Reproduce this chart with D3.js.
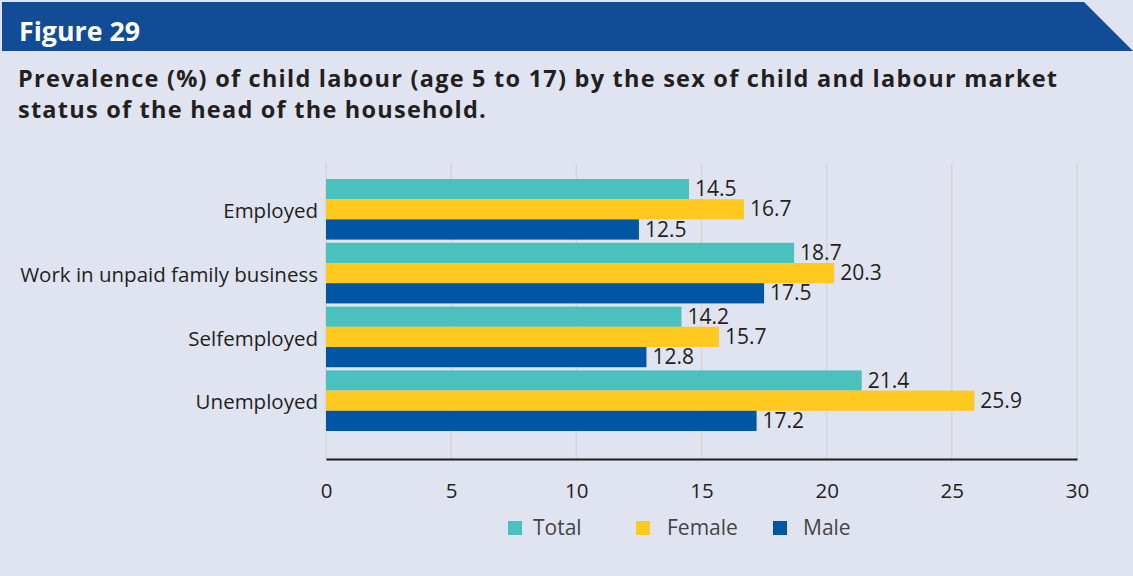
<!DOCTYPE html>
<html>
<head>
<meta charset="utf-8">
<script src="https://cdn.jsdelivr.net/npm/d3@7"></script>
<style>
  html, body { margin: 0; padding: 0; background: #e0e4f0; }
  svg { display: block; }
</style>
</head>
<body>
<svg id="chart" width="1133" height="576"></svg>
<script>
const categories = ["Employed", "Work in unpaid family business", "Selfemployed", "Unemployed"];
const seriesNames = ["Total", "Female", "Male"];
const totalValues = [14.5, 18.7, 14.2, 21.4];
const femaleValues = [16.7, 20.3, 15.7, 25.9];
const maleValues = [12.5, 17.5, 12.8, 17.2];
const xTicks = [0, 5, 10, 15, 20, 25, 30];
const colors = ["#4bc1bd", "#ffc91f", "#0055a5"];

const seriesValues = [totalValues, femaleValues, maleValues];
const W = 1133, H = 576;
const svg = d3.select("#chart");

svg.append("rect").attr("x", 0).attr("y", 0).attr("width", W).attr("height", H).attr("fill", "#e0e4f0");

svg.append("path")
  .attr("d", "M2,2 L1084,2 L1133,51 L2,51 Z")
  .attr("fill", "#124c97");

function fitText(sel, target) {
  const fs = parseFloat(sel.attr("font-size"));
  const w = sel.node().getComputedTextLength();
  sel.attr("font-size", (fs * target / w).toFixed(2));
}
function spreadText(sel, target) {
  const txt = sel.text();
  const w = sel.node().getComputedTextLength();
  const ls = (target - w) / Math.max(1, txt.length - 1);
  sel.attr("letter-spacing", ls.toFixed(3));
  return ls;
}

const fontTitle = "'Open Sans', 'DejaVu Sans', sans-serif";
const t0 = svg.append("text").attr("x", 19).attr("y", 41)
  .attr("font-family", fontTitle).attr("font-weight", 700).attr("font-size", 23)
  .attr("fill", "#ffffff").text("Figure 29");
fitText(t0, 121);

const t1 = svg.append("text").attr("x", 18).attr("y", 87)
  .attr("font-family", fontTitle).attr("font-weight", 700).attr("font-size", 23.5)
  .attr("fill", "#231f20").text("Prevalence (%) of child labour (age 5 to 17) by the sex of child and labour market");
const ls = spreadText(t1, 1039);
svg.append("text").attr("x", 18).attr("y", 118)
  .attr("font-family", fontTitle).attr("font-weight", 700).attr("font-size", 23.5)
  .attr("letter-spacing", ls.toFixed(3))
  .attr("fill", "#231f20").text("status of the head of the household.");

const x = d3.scaleLinear().domain([0, 30]).range([326, 1077]);
const y0 = d3.scaleBand().domain(categories).range([179, 431]).paddingInner(0.05).paddingOuter(0);
const y1 = d3.scaleBand().domain(seriesNames).range([0, y0.bandwidth()]);

const font = "'Open Sans', 'DejaVu Sans', sans-serif";

svg.append("g").selectAll("line").data(xTicks).join("line")
  .attr("x1", d => x(d)).attr("x2", d => x(d))
  .attr("y1", 163).attr("y2", 459)
  .attr("stroke", "#d6d6d8").attr("stroke-width", 1.5);

const groups = svg.append("g").selectAll("g").data(categories).join("g")
  .attr("transform", c => `translate(0,${y0(c)})`);

groups.each(function(c, i) {
  const g = d3.select(this);
  const rows = seriesNames.map((s, k) => ({ s, k, v: seriesValues[k][i] }));
  g.selectAll("rect").data(rows).join("rect")
    .attr("x", x(0)).attr("y", d => y1(d.s))
    .attr("width", d => x(d.v) - x(0)).attr("height", y1.bandwidth())
    .attr("fill", d => colors[d.k]);
  g.selectAll("text.val").data(rows).join("text")
    .attr("class", "val")
    .attr("x", d => x(d.v) + 6).attr("y", d => y1(d.s) + y1.bandwidth() / 2)
    .attr("dy", "0.34em")
    .attr("font-family", font).attr("font-size", 21).attr("fill", "#231f20")
    .text(d => d.v.toFixed(1));
});

svg.append("g").selectAll("text").data(categories).join("text")
  .attr("x", 318).attr("y", c => y0(c) + y0.bandwidth() / 2)
  .attr("dy", "0.42em").attr("text-anchor", "end")
  .attr("font-family", font).attr("font-size", 20.5).attr("fill", "#231f20")
  .text(c => c);

const xAxis = svg.append("g").attr("transform", "translate(0,459)")
  .call(d3.axisBottom(x).tickValues(xTicks).tickSize(0).tickPadding(24).tickFormat(d3.format("d")));
xAxis.select(".domain").attr("stroke", "#1a1a1a").attr("stroke-width", 2);
xAxis.selectAll("text").attr("font-family", font).attr("font-size", 20.5).attr("fill", "#231f20");

const legendX = [508, 636, 773];
const legendTextX = [533, 667, 803];
const lg = svg.append("g").selectAll("g").data(seriesNames).join("g");
lg.append("rect")
  .attr("x", (d, i) => legendX[i]).attr("y", 521)
  .attr("width", 14).attr("height", 14)
  .attr("fill", (d, i) => colors[i]);
lg.append("text")
  .attr("x", (d, i) => legendTextX[i]).attr("y", 527).attr("dy", "0.36em")
  .attr("font-family", font).attr("font-size", 21).attr("fill", "#444448")
  .text(d => d);
</script>
</body>
</html>
